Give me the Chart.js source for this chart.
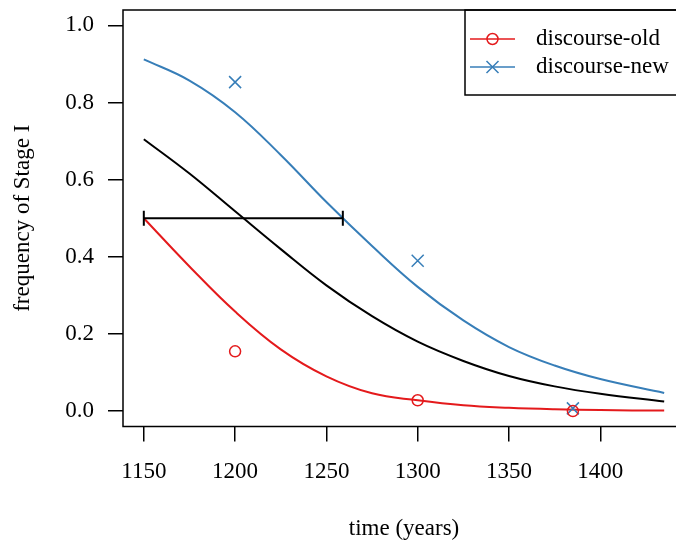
<!DOCTYPE html>
<html>
<head>
<meta charset="utf-8">
<script src="https://cdn.jsdelivr.net/npm/chart.js@4.4.1/dist/chart.umd.min.js"></script>
<style>
    html, body { margin: 0; padding: 0; background: #fff; overflow: hidden; }
    canvas { display: block; }
</style>
</head>
<body>
<canvas id="chartStage" width="700" height="545"></canvas>
<script>
// fitted curves
const fitYears = [1150, 1175, 1200, 1225, 1250, 1275, 1300, 1325, 1350, 1375, 1400, 1435];
const fitOld = [0.5, 0.375, 0.258, 0.16, 0.09, 0.046, 0.028, 0.015, 0.0085, 0.0047, 0.0026, 0.0012];
const fitNew = [0.912, 0.857, 0.775, 0.664, 0.542, 0.428, 0.322, 0.235, 0.166, 0.118, 0.083, 0.047];
const fitAll = [0.705, 0.616, 0.518, 0.42, 0.326, 0.246, 0.18, 0.13, 0.091, 0.064, 0.045, 0.025];

// observed points
const obsYears = [1200, 1300, 1385];
const obsOld = [0.155, 0.028, 0.0];
const obsNew = [0.853, 0.39, 0.007];

// horizontal interval at 0.5
const spanYears = [1150, 1259];
const spanLevel = 0.5;

const xTicks = [1150, 1200, 1250, 1300, 1350, 1400];
const yTicks = [0.0, 0.2, 0.4, 0.6, 0.8, 1.0];

const RED = "#E41A1C";
const BLUE = "#377EB8";
const FONT = "'Liberation Serif', 'Times New Roman', serif";

const toPoints = (xs, ys) => xs.map((x, i) => ({ x, y: ys[i] }));

// R style box + legend
const boxAndLegend = {
    id: "boxAndLegend",
    afterDraw(chart) {
        const { ctx, chartArea } = chart;
        ctx.save();
        ctx.strokeStyle = "#000";
        ctx.lineWidth = 1.5;
        ctx.strokeRect(chartArea.left, chartArea.top, chartArea.right - chartArea.left, chartArea.bottom - chartArea.top);

        // legend
        const lx = 465, ly = chartArea.top;
        ctx.strokeRect(lx, ly, 300, 85);
        const entries = [
            { label: chart.data.datasets[0].label, color: RED, mark: "circle" },
            { label: chart.data.datasets[1].label, color: BLUE, mark: "cross" }
        ];
        entries.forEach((e, i) => {
            const y = ly + 29 + i * 28;
            ctx.strokeStyle = e.color;
            ctx.lineWidth = 1.5;
            ctx.beginPath();
            ctx.moveTo(470, y);
            ctx.lineTo(515, y);
            ctx.stroke();
            ctx.beginPath();
            if (e.mark === "circle") {
                ctx.arc(492.5, y, 5.5, 0, Math.PI * 2);
            } else {
                ctx.moveTo(486.5, y - 6); ctx.lineTo(498.5, y + 6);
                ctx.moveTo(486.5, y + 6); ctx.lineTo(498.5, y - 6);
            }
            ctx.stroke();
            ctx.fillStyle = "#000";
            ctx.font = "23px " + FONT;
            ctx.textAlign = "left";
            ctx.textBaseline = "middle";
            ctx.fillText(e.label, 536, y);
        });
        ctx.restore();
    }
};

const ctx = document.getElementById("chartStage").getContext("2d");

const fitLine = (label, pts, color) => ({
    label,
    data: pts,
    showLine: true,
    borderColor: color,
    borderWidth: 2,
    pointRadius: 0,
    tension: 0.4
});

const chartStage = new Chart(ctx, {
    type: "scatter",
    data: {
        datasets: [
            {
                label: "discourse-old",
                data: toPoints(obsYears, obsOld),
                pointStyle: "circle",
                pointRadius: 5.5,
                pointBorderWidth: 1.5,
                borderColor: RED,
                backgroundColor: "rgba(0,0,0,0)",
                showLine: false
            },
            {
                label: "discourse-new",
                data: toPoints(obsYears, obsNew),
                pointStyle: "crossRot",
                pointRadius: 8.5,
                pointBorderWidth: 1.5,
                borderColor: BLUE,
                backgroundColor: BLUE,
                showLine: false
            },
            {
                label: "interval",
                data: spanYears.map(x => ({ x, y: spanLevel })),
                showLine: true,
                borderColor: "#000",
                borderWidth: 2,
                pointStyle: "line",
                pointRotation: 90,
                pointRadius: 7.5,
                pointBorderWidth: 2,
                pointBorderColor: "#000"
            },
            fitLine("fit old", toPoints(fitYears, fitOld), RED),
            fitLine("fit new", toPoints(fitYears, fitNew), BLUE),
            fitLine("fit all", toPoints(fitYears, fitAll), "#000")
        ]
    },
    options: {
        responsive: false,
        animation: false,
        devicePixelRatio: 1,
        layout: { padding: { top: 9, right: 15, left: 0, bottom: 0 } },
        plugins: {
            legend: { display: false },
            tooltip: { enabled: false }
        },
        scales: {
            x: {
                type: "linear",
                min: 1138.6,
                max: 1446.4,
                afterBuildTicks: s => { s.ticks = xTicks.map(v => ({ value: v })); },
                afterFit: s => { s.height = 118.5; s.paddingLeft = 0; s.paddingRight = 0; },
                grid: { drawOnChartArea: false, drawTicks: true, tickLength: 15, color: "#000", lineWidth: 1.5 },
                border: { display: false },
                ticks: {
                    color: "#000",
                    font: { family: FONT, size: 23 },
                    padding: 17,
                    maxRotation: 0,
                    callback: v => String(v)
                },
                title: {
                    display: true,
                    text: "time (years)",
                    color: "#000",
                    font: { family: FONT, size: 23 },
                    padding: { top: 0, bottom: 2 }
                }
            },
            y: {
                type: "linear",
                min: -0.04,
                max: 1.04,
                afterBuildTicks: s => { s.ticks = yTicks.map(v => ({ value: v })); },
                afterFit: s => { s.width = 123; s.paddingTop = 0; s.paddingBottom = 0; },
                grid: { drawOnChartArea: false, drawTicks: true, tickLength: 15, color: "#000", lineWidth: 1.5 },
                border: { display: false },
                ticks: {
                    color: "#000",
                    font: { family: FONT, size: 23 },
                    padding: 14,
                    callback: v => v.toFixed(1)
                },
                title: {
                    display: true,
                    text: "frequency of Stage I",
                    color: "#000",
                    font: { family: FONT, size: 23 },
                    padding: { top: 9, bottom: 0 }
                }
            }
        }
    },
    plugins: [boxAndLegend]
});
</script>
</body>
</html>
